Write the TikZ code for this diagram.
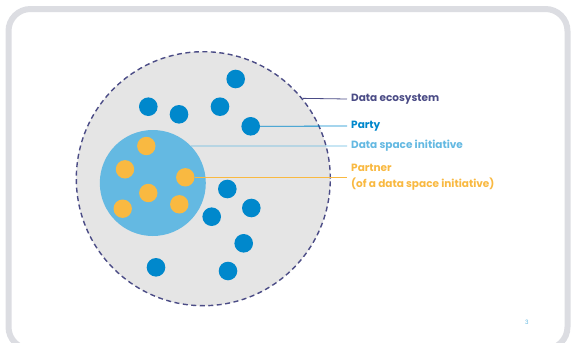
\documentclass[tikz,border=0pt]{standalone}
\usepackage{fontspec}
\setmainfont{Poppins}
\definecolor{framegray}{HTML}{DCDDE2}
\definecolor{ecocol}{HTML}{4B4C86}
\definecolor{partycol}{HTML}{0088CC}
\definecolor{dsicol}{HTML}{64B9E2}
\definecolor{partnercol}{HTML}{F9B941}
\definecolor{fillgray}{HTML}{E5E5E5}
\begin{document}
\begin{tikzpicture}[x=1pt,y=-1pt,
  party/.style={circle,fill=partycol,minimum size=18.6pt,inner sep=0pt},
  partner/.style={circle,fill=partnercol,minimum size=18.4pt,inner sep=0pt},
  lab/.style={anchor=west,inner sep=0pt,font=\fontsize{10.5}{16}\selectfont\bfseries,align=left},
  leader/.style={line width=0.8pt}]
\useasboundingbox (0,0) rectangle (571,343);
\begin{scope}
\clip (0,0) rectangle (571,343);
\draw[line width=6pt,framegray,fill=white,rounded corners=22pt] (8.5,9) rectangle (567.5,349);
\end{scope}
% ecosystem
\node[circle,fill=fillgray,draw=ecocol,line width=1.4pt,dash pattern=on 5pt off 3.5pt,minimum size=254pt,inner sep=0pt] (eco) at (203.3,178.7) {};
% data space initiative
\node[circle,fill=dsicol,minimum size=106pt,inner sep=0pt] (dsi) at (152.8,183) {};
% parties
\node[party] (p1) at (235.7,79) {};
\node[party] (p2) at (148.3,106.7) {};
\node[party] (p3) at (179,114.3) {};
\node[party] (p4) at (220,106.7) {};
\node[party] (p5) at (250.7,126.3) {};
\node[party] (p6) at (227.3,189) {};
\node[party] (p7) at (251.3,208) {};
\node[party] (p8) at (211.7,216.7) {};
\node[party] (p9) at (243.7,243.3) {};
\node[party] (p10) at (156,267.3) {};
\node[party] (p11) at (228,271) {};
% partners
\node[partner] (q1) at (146.3,146) {};
\node[partner] (q2) at (125,169.3) {};
\node[partner] (q3) at (185.3,177.3) {};
\node[partner] (q4) at (148.3,193) {};
\node[partner] (q5) at (122.7,208.7) {};
\node[partner] (q6) at (179.3,204.3) {};
% labels
\node[lab,text=ecocol] (leco) at (351,99) {Data ecosystem};
\node[lab,text=partycol] (lparty) at (351,126) {Party};
\node[lab,text=dsicol] (ldsi) at (351,146) {Data space initiative};
\node[lab,text=partnercol] (lpartner) at (351,177.3) {Partner\\(of a data space initiative)};
% leaders
\draw[leader,ecocol] (eco.39) -- ([xshift=-4pt]leco.west);
\draw[leader,partycol] (p5.east) -- ([xshift=-4pt]lparty.west);
\draw[leader,dsicol] (dsi.44) -- ([xshift=-4pt]ldsi.west);
\draw[leader,partnercol] (q3.east) -- ([xshift=-4pt]lpartner.west);
% page number
\node[text=dsicol,font=\fontsize{6}{7}\selectfont,inner sep=0pt] (pg) at (527,322) {3};
\end{tikzpicture}
\end{document}
